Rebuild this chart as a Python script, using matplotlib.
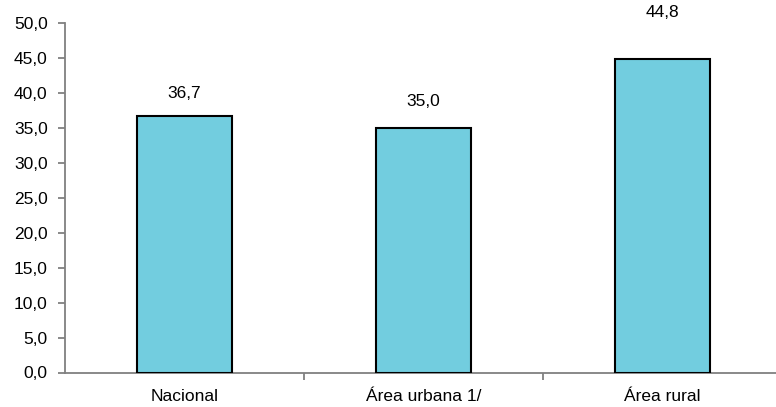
import matplotlib.pyplot as plt

categorias = ["Nacional", "Área urbana 1/", "Área rural"]
valores = [36.7, 35.0, 44.8]
yticks = [0, 5, 10, 15, 20, 25, 30, 35, 40, 45, 50]

# separación de cada etiqueta sobre su barra (puntos), como en el original
desfase = [10.8, 13.6, 28.0]

plt.rcParams["font.family"] = ["Liberation Sans", "DejaVu Sans"]

fig = plt.figure(figsize=(7.76, 4.07), dpi=100)
ax = fig.add_axes([65 / 776, 1 - 372.5 / 407, 1 - 65 / 776, (372.5 - 23) / 407])

x = list(range(len(categorias)))
ax.bar(x, valores, width=0.4, color="#72CDDF", edgecolor="black", linewidth=1.5, zorder=3)

for xi, v, d in zip(x, valores, desfase):
    ax.annotate(f"{v:.1f}".replace(".", ","), (xi, v), xytext=(0, d),
                textcoords="offset points", ha="center", va="bottom", fontsize=12.5)

ax.set_xlim(-0.5, 2.475)
ax.set_ylim(0, 50)
ax.set_yticks(yticks)
ax.set_yticklabels([f"{t:.1f}".replace(".", ",") for t in yticks], fontsize=12.5)
ax.set_xticks(x)
ax.set_xticklabels(categorias, fontsize=12.5)
ax.set_xticks([0.5, 1.5], minor=True)

ax.tick_params(axis="x", which="major", length=0, pad=12)
ax.tick_params(axis="x", which="minor", length=5, color="#808080", width=1.3)
ax.tick_params(axis="y", length=5, color="#808080", width=1.3, pad=7.5)

for s in ["top", "right"]:
    ax.spines[s].set_visible(False)
for s in ["left", "bottom"]:
    ax.spines[s].set_color("#808080")
    ax.spines[s].set_linewidth(1.3)

fig.savefig("out.png", dpi=100)
